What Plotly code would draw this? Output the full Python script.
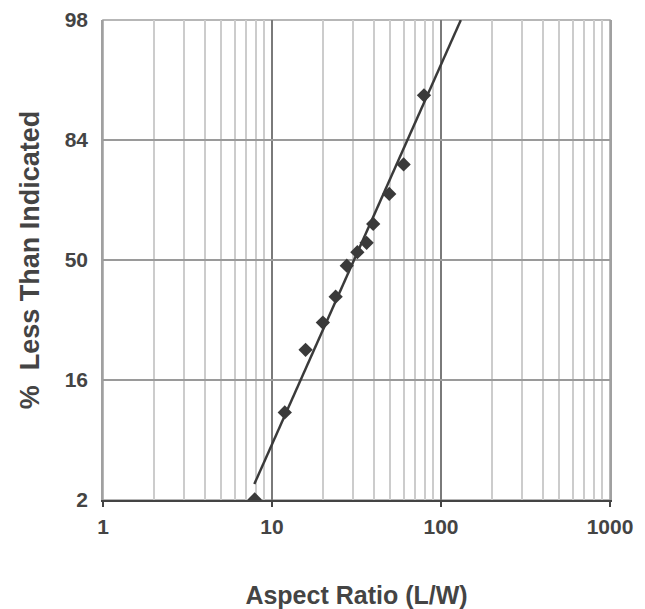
from statistics import NormalDist
import plotly.graph_objects as go

# data
aspect_ratio = [7.9, 11.9, 15.8, 20.0, 23.8, 27.7, 32.0, 36.3, 39.7, 49.4, 60.1, 79.3]
pct_less = [2.3, 10.2, 22.7, 30.1, 38.0, 48.1, 52.6, 55.7, 61.8, 70.9, 78.7, 91.5]

fit_x = [7.86, 131.0]
fit_pct = [3.1, 97.72]

y_tick_labels = ["2", "16", "50", "84", "98"]
y_tick_z = [-2, -1, 0, 1, 2]
x_tick_vals = [1, 10, 100, 1000]
x_tick_labels = ["1", "10", "100", "1000"]

nd = NormalDist()
z_pts = [nd.inv_cdf(p / 100) for p in pct_less]
z_fit = [nd.inv_cdf(p / 100) for p in fit_pct]

fig = go.Figure()
fig.add_trace(go.Scatter(x=fit_x, y=z_fit, mode="lines",
                         line=dict(color="#3a3a3a", width=2.5),
                         showlegend=False, hoverinfo="skip"))
fig.add_trace(go.Scatter(x=aspect_ratio, y=z_pts, mode="markers",
                         marker=dict(symbol="diamond", size=11, color="#3a3a3a"),
                         showlegend=False))

font = dict(family="Liberation Sans, Arial, sans-serif", color="#444444")

# page body has an 8px margin, so the figure is sized to fit the window
fig.update_layout(
    width=637, height=601,
    margin=dict(l=95, r=35, t=12, b=109),
    paper_bgcolor="white", plot_bgcolor="white",
    font=font,
    xaxis=dict(
        type="log", range=[0, 3], automargin=False,
        tickvals=x_tick_vals, ticktext=["<b>%s</b>" % t for t in x_tick_labels],
        tickfont=dict(size=21, color="#444444"),
        showgrid=True, gridcolor="#7a7a7a", gridwidth=2,
        minor=dict(dtick="D1", showgrid=True, gridcolor="#cccccc", gridwidth=1.5, ticks=""),
        showline=True, linecolor="#444444", linewidth=2,
        ticks="outside", ticklen=5, tickcolor="#444444", tickwidth=1.5,
        ticklabelstandoff=2,
        mirror=False, zeroline=False,
        title=dict(text="<b>Aspect Ratio (L/W)</b>", font=dict(size=25, color="#444444"), standoff=49),
    ),
    yaxis=dict(
        range=[-2, 2], automargin=False,
        tickvals=y_tick_z, ticktext=["<b>%s</b>" % t for t in y_tick_labels],
        tickfont=dict(size=21, color="#444444"),
        showgrid=True, gridcolor="#9a9a9a", gridwidth=1.5,
        showline=True, linecolor="#a0a0a0", linewidth=1.5, mirror=True,
        ticks="", ticklabelstandoff=9, zeroline=False,
        title=dict(text="<b>%  Less Than Indicated</b>", font=dict(size=27, color="#444444"), standoff=17),
    ),
)
fig.add_shape(type="rect", xref="paper", yref="paper", x0=0, x1=1, y0=0, y1=1,
              line=dict(color="#a0a0a0", width=1.5), layer="below")

fig.write_html("out.html")
